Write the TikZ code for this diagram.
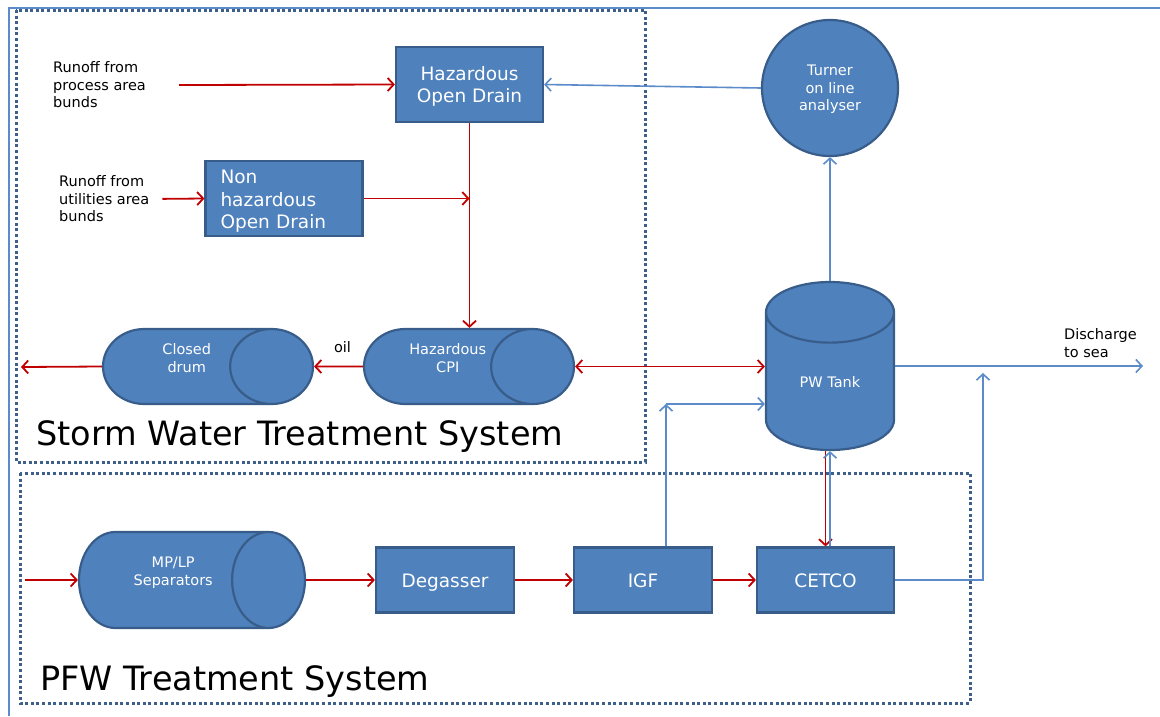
\documentclass[tikz,border=0pt]{standalone}
\usepackage{fontspec}
\setmainfont{DejaVu Sans}
\usetikzlibrary{shapes.geometric,arrows.meta}
\definecolor{boxblue}{HTML}{4F81BD}
\definecolor{edgeblue}{HTML}{385D8A}
\definecolor{flowred}{HTML}{C00000}
\definecolor{flowblue}{HTML}{5B8BC9}
\definecolor{frameblue}{HTML}{3E5F8A}

\begin{document}
\begin{tikzpicture}[x=1pt,y=-1pt]
\tikzstyle{block} = [rectangle, draw=edgeblue, line width=2.2pt, fill=boxblue, text=white, font=\fontsize{18.5}{22.5}\selectfont, align=center, inner sep=0pt]
\tikzstyle{unit} = [block, text height=19pt, text depth=4pt, minimum width=138pt, minimum height=65pt]
\tikzstyle{vessel} = [cylinder, draw=edgeblue, line width=2.2pt, fill=boxblue, text=white, font=\fontsize{14.5}{17.5}\selectfont, align=center, inner sep=0pt, anchor=shape center]
\tikzstyle{note} = [font=\fontsize{14.5}{17.5}\selectfont, align=left, inner sep=0pt]
\tikzstyle{title} = [font=\fontsize{33.5}{40}\selectfont, inner sep=0pt, anchor=base west]
\tikzstyle{arrow} = [line width=1.8pt, flowred, -{Straight Barb[length=6pt,width=13pt]}]
\tikzstyle{bluearrow} = [line width=1.6pt, flowblue, -{Straight Barb[length=6pt,width=13pt]}]
\tikzstyle{frame} = [frameblue, line width=3pt, dash pattern=on 3pt off 2.6pt]

\useasboundingbox (0,0) rectangle (1160,716);

% outer frame and the two systems
\draw [flowblue, line width=1.5pt] (1160,8) -- (9,8) -- (9,716);
\draw [frame] (16,10) rectangle (645,462);
\draw [frame] (20,473) rectangle (970,703);
\node (stormlbl) [title] at (36,445) {Storm Water Treatment System};
\node (pfwlbl) [title] at (40,690) {PFW Treatment System};

% storm water side
\node (runoffp) [note, anchor=west] at (53,85) {Runoff from\\process area\\bunds};
\node (runoffu) [note, anchor=west] at (59,199) {Runoff from\\utilities area\\bunds};
\node (hod) [block, minimum width=147pt, minimum height=75pt, text depth=0pt] at (469.5,84.5) {Hazardous\\Open Drain};
\node (nhod) [block, text width=127pt, align=left, inner xsep=15pt, minimum height=75pt, text height=19.6pt] at (284,198.5) {Non\\hazardous\\Open Drain};
\node (closed) [vessel, minimum width=75pt, minimum height=210pt, aspect=1.8] at (208,366.5) {Closed\\drum\\\mbox{}};
\node (cpi) [vessel, minimum width=75pt, minimum height=210pt, aspect=1.8] at (469,366.5) {Hazardous\\CPI\\\mbox{}};
\coordinate (spill) at (21,367);

% tank and analyser
\node (turner) [circle, draw=edgeblue, line width=2.2pt, fill=boxblue, text=white, font=\fontsize{14.5}{17.5}\selectfont, align=center, minimum size=136pt, inner sep=0pt, text depth=0pt] at (830,88) {Turner\\on line\\analyser};
\node (tank) [vessel, shape border rotate=90, minimum width=128pt, minimum height=168pt] at (830,366) {PW Tank};
\node (seanote) [note, anchor=west] at (1064,343) {Discharge\\to sea};
\coordinate (sea) at (1143,366);

% PFW side
\node (sep) [vessel, minimum width=96pt, minimum height=226pt, aspect=1.6] at (192,580) {MP/LP\\Separators\\\mbox{}};
\node (degas) [unit] at (445,580) {Degasser};
\node (igf) [unit] at (643,580) {IGF};
\node (cetco) [unit, minimum width=137pt] at (825.5,580) {CETCO};
\coordinate (feed) at (25,580);
\coordinate (split) at (666,404);
\coordinate (joint) at (983,373);

\draw [arrow] (runoffp.east) ++(33pt,0) -- (hod.west);
\draw [arrow, shorten <=13pt] (runoffu.east) -- (nhod.west);
\draw [arrow] (nhod.east) -- (nhod.east -| hod.south);
\draw [arrow] (hod.south) -- (hod.south |- cpi.north);
\draw [arrow] (cpi.west) -- node (oillbl) [note, above=13pt, xshift=4pt, text=black] {oil} (closed.east);
\draw [arrow] (closed.west) -- (spill);
\draw [arrow, {Straight Barb[length=6pt,width=13pt]}-{Straight Barb[length=6pt,width=13pt]}] (cpi.east) -- (cpi.east -| tank.west);
\draw [bluearrow] (tank.north) -- (turner.south);
\draw [bluearrow] (turner.west) -- (hod.east);
\draw [bluearrow] (tank.east |- sea) -- (sea);

\draw [arrow] (feed) -- (sep.west);
\draw [arrow] (sep.east) -- (degas.west);
\draw [arrow] (degas.east) -- (igf.west);
\draw [arrow] (igf.east) -- (cetco.west);
\draw [arrow] ([xshift=-4.5pt]tank.south) -- ([xshift=-4.5pt]tank.south |- cetco.north);
\draw [bluearrow] (tank.south |- cetco.north) -- (tank.south);
\draw [bluearrow] ([xshift=23pt]igf.north) -- (split);
\draw [bluearrow] (split) -- (split -| tank.west);
\draw [bluearrow] (cetco.east) -| (joint);

\end{tikzpicture}
\end{document}
